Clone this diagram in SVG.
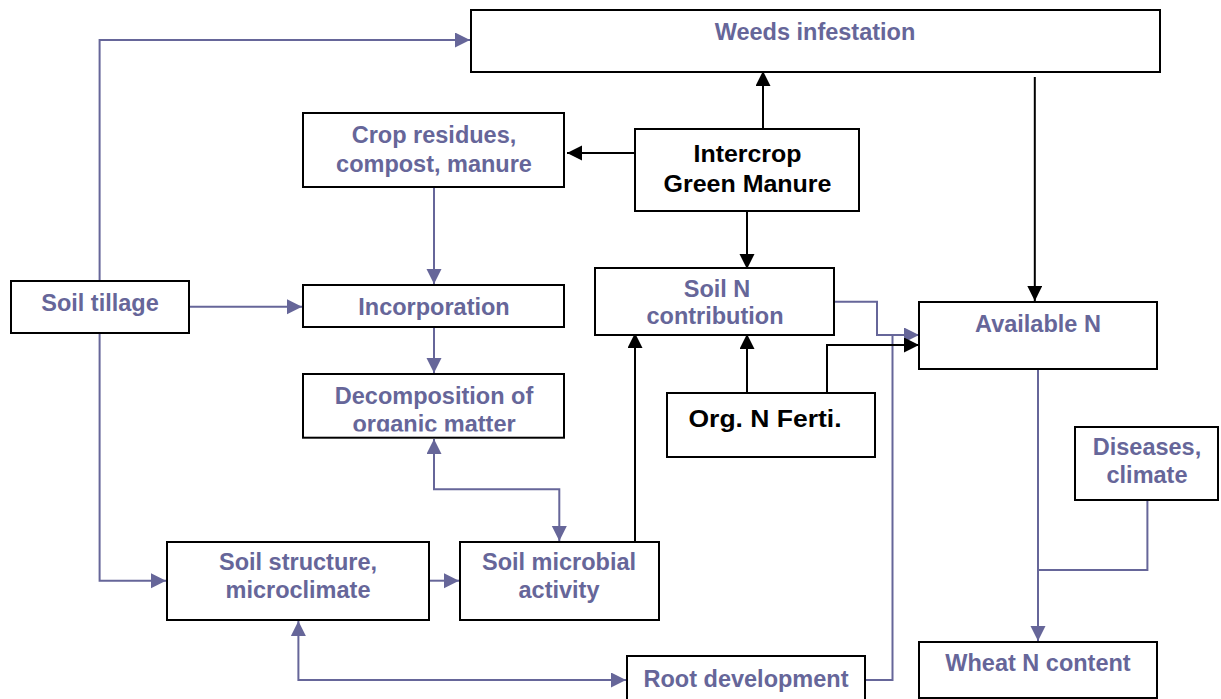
<svg xmlns="http://www.w3.org/2000/svg" width="1221" height="699" viewBox="0 0 1221 699">
<style>
.box{fill:#fff;stroke:#000;stroke-width:2}
.t{font-family:"Liberation Sans",Arial,sans-serif;font-weight:bold;font-size:23.5px;text-anchor:middle;fill:#666699}
.k{fill:#000;font-size:24px}
.p{fill:none;stroke:#666699;stroke-width:2}
.b{fill:none;stroke:#000;stroke-width:2}
</style>
<defs>
<marker id="ap" markerUnits="userSpaceOnUse" markerWidth="16" markerHeight="16" refX="15" refY="7.5" orient="auto-start-reverse"><path d="M0,0 L15,7.5 L0,15 z" fill="#666699"/></marker>
<marker id="ab" markerUnits="userSpaceOnUse" markerWidth="16" markerHeight="16" refX="15" refY="7.5" orient="auto-start-reverse"><path d="M0,0 L15,7.5 L0,15 z" fill="#000"/></marker>
<clipPath id="dc"><rect x="303" y="374" width="261" height="57.5"/></clipPath>
</defs>
<rect width="1221" height="699" fill="#fff"/>
<g id="connectors">
<path class="p" d="M99.6,281 V40 H470" marker-end="url(#ap)"/>
<path class="p" d="M189,306.7 H302" marker-end="url(#ap)"/>
<path class="p" d="M99.6,333 V580.7 H166" marker-end="url(#ap)"/>
<path class="p" d="M434,187 V284" marker-end="url(#ap)"/>
<path class="p" d="M434,327 V373" marker-end="url(#ap)"/>
<path class="p" d="M434,439 V489.3 H559.3 V541" marker-start="url(#ap)" marker-end="url(#ap)"/>
<path class="p" d="M429,580.7 H459" marker-end="url(#ap)"/>
<path class="p" d="M298.4,621 V680 H626" marker-start="url(#ap)" marker-end="url(#ap)"/>
<path class="p" d="M865,680 H892.5 V335"/>
<path class="p" d="M834,301.7 H877 V335 H919" marker-end="url(#ap)"/>
<path class="p" d="M1038,369 V641" marker-end="url(#ap)"/>
<path class="p" d="M1147.4,500 V570 H1038"/>
<path class="b" d="M763,129 V71" marker-end="url(#ab)"/>
<path class="b" d="M635,153 H567" marker-end="url(#ab)"/>
<path class="b" d="M747,211 V269" marker-end="url(#ab)"/>
<path class="b" d="M1034.8,77 V301" marker-end="url(#ab)"/>
<path class="b" d="M635,541.7 V333" marker-end="url(#ab)"/>
<path class="b" d="M747,392.7 V334" marker-end="url(#ab)"/>
<path class="b" d="M827,392.7 V345 H919" marker-end="url(#ab)"/>
</g>
<g id="weeds"><rect class="box" x="471" y="10" width="689" height="62"/><text class="t" x="815" y="40">Weeds infestation</text></g>
<g id="crop"><rect class="box" x="303" y="113" width="261" height="74"/><text class="t" x="434" y="143">Crop residues,</text><text class="t" x="434" y="172">compost, manure</text></g>
<g id="intercrop"><rect class="box" x="635" y="129" width="224" height="82"/><text class="t k" x="747.5" y="162" textLength="108" lengthAdjust="spacingAndGlyphs">Intercrop</text><text class="t k" x="747.5" y="192" textLength="168" lengthAdjust="spacingAndGlyphs">Green Manure</text></g>
<g id="tillage"><rect class="box" x="11" y="281" width="178" height="52"/><text class="t" x="100" y="311">Soil tillage</text></g>
<g id="incorp"><rect class="box" x="303" y="285" width="261" height="42"/><text class="t" x="434" y="315">Incorporation</text></g>
<g id="soiln"><rect class="box" x="595" y="268" width="239" height="67"/><text class="t" x="717" y="297">Soil N</text><text class="t" x="715" y="324">contribution</text></g>
<g id="availn"><rect class="box" x="919" y="302" width="238" height="67"/><text class="t" x="1038" y="332">Available N</text></g>
<g id="decomp"><rect class="box" x="303" y="374" width="261" height="63.7"/><text class="t" x="434" y="404">Decomposition of</text><text class="t" x="434" y="432" clip-path="url(#dc)">organic matter</text></g>
<g id="orgn"><rect class="box" x="667" y="393" width="208" height="64"/><text class="t k" x="765" y="427" textLength="153" lengthAdjust="spacingAndGlyphs">Org. N Ferti.</text></g>
<g id="diseases"><rect class="box" x="1075" y="427" width="143" height="73"/><text class="t" x="1147" y="455">Diseases,</text><text class="t" x="1147" y="483">climate</text></g>
<g id="structure"><rect class="box" x="167" y="542" width="262" height="78"/><text class="t" x="298" y="570">Soil structure,</text><text class="t" x="298" y="598">microclimate</text></g>
<g id="microbial"><rect class="box" x="460" y="542" width="199" height="78"/><text class="t" x="559" y="570">Soil microbial</text><text class="t" x="559" y="598">activity</text></g>
<g id="root"><rect class="box" x="627" y="656" width="238" height="50"/><text class="t" x="746" y="687">Root development</text></g>
<g id="wheat"><rect class="box" x="919" y="642" width="238" height="56"/><text class="t" x="1038" y="671">Wheat N content</text></g>
</svg>
